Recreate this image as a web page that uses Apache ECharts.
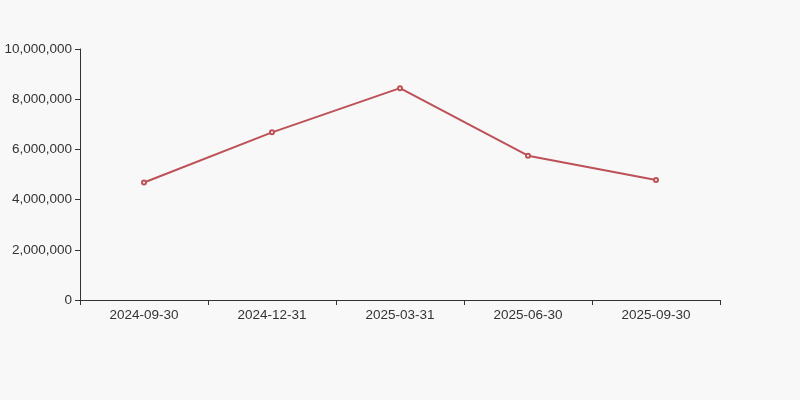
<!DOCTYPE html>
<html lang="en">
<head>
    <meta charset="UTF-8">
    <script src="https://cdn.jsdelivr.net/npm/echarts@6/dist/echarts.min.js"></script>
    <title>chart</title>
    <style>
        html, body { margin: 0; padding: 0; background: #f8f8f8; }
    </style>
</head>
<body>
    <div id="chart" style="width: 800px;height:400px;"></div>
    <script>
        // 数据
        var dates = ['2024-09-30', '2024-12-31', '2025-03-31', '2025-06-30', '2025-09-30'];
        var values = [4680000, 6680000, 8440000, 5750000, 4780000];

        var chart = echarts.init(document.getElementById('chart'));

        var option = {
            backgroundColor: '#f8f8f8',
            textStyle: { fontFamily: 'Arial, "Liberation Sans", sans-serif' },
            grid: {
                left: 80,
                right: 80,
                top: 49,
                bottom: 100
            },
            xAxis: {
                type: 'category',
                data: dates,
                boundaryGap: true,
                axisLine: { lineStyle: { color: '#333' } },
                axisTick: { show: true, alignWithLabel: false, lineStyle: { color: '#333' } },
                axisLabel: { color: '#333', fontSize: 13.5, margin: 8 }
            },
            yAxis: {
                type: 'value',
                min: 0,
                max: 10000000,
                interval: 2000000,
                splitLine: { show: false },
                axisLine: { show: true, lineStyle: { color: '#333' } },
                axisTick: { show: true, lineStyle: { color: '#333' } },
                axisLabel: {
                    color: '#333',
                    fontSize: 13.5,
                    formatter: function (v) {
                        return v.toLocaleString('en-US');
                    }
                }
            },
            series: [
                {
                    type: 'line',
                    data: values,
                    symbol: 'emptyCircle',
                    symbolSize: 4,
                    lineStyle: { color: '#bd5157', width: 2 },
                    itemStyle: { color: '#bd5157' }
                }
            ]
        };

        chart.setOption(option);
    </script>
</body>
</html>
